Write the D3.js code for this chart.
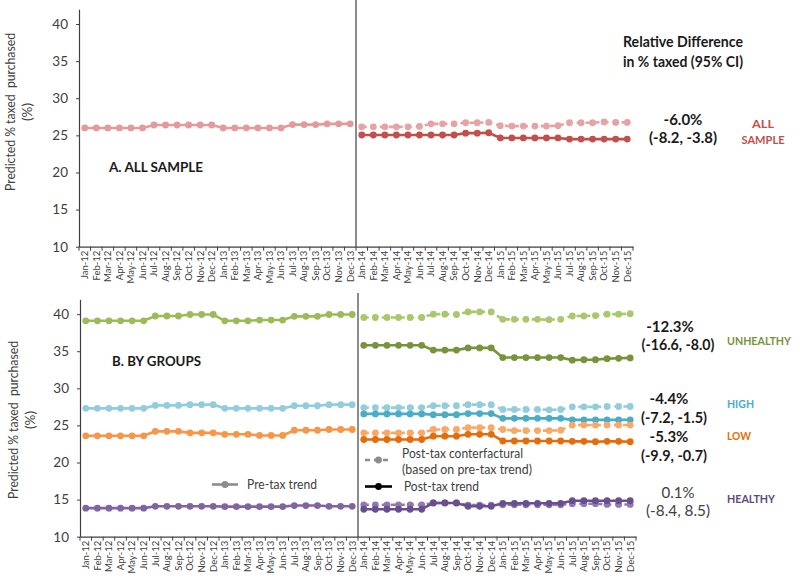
<!DOCTYPE html>
<html><head><meta charset="utf-8">
<script src="https://cdn.jsdelivr.net/npm/d3@7"></script>
<style>
body{margin:0;background:#fff;}
svg{display:block;font-family:Lato,"Open Sans",sans-serif;}
</style></head>
<body><svg id="c" width="800" height="579"></svg>
<script>
const months = ["Jan-12","Feb-12","Mar-12","Apr-12","May-12","Jun-12","Jul-12","Aug-12","Sep-12","Oct-12","Nov-12","Dec-12",
"Jan-13","Feb-13","Mar-13","Apr-13","May-13","Jun-13","Jul-13","Aug-13","Sep-13","Oct-13","Nov-13","Dec-13",
"Jan-14","Feb-14","Mar-14","Apr-14","May-14","Jun-14","Jul-14","Aug-14","Sep-14","Oct-14","Nov-14","Dec-14",
"Jan-15","Feb-15","Mar-15","Apr-15","May-15","Jun-15","Jul-15","Aug-15","Sep-15","Oct-15","Nov-15","Dec-15"];
const preMonths = months.slice(0,24);
const postMonths = months.slice(24);
const yTicks = [10,15,20,25,30,35,40];

// Panel A: all sample
const allPre  = [26.0,26.0,26.0,26.0,26.0,26.0,26.4,26.4,26.4,26.4,26.4,26.4,26.0,26.0,26.0,26.0,26.0,26.0,26.45,26.45,26.45,26.55,26.55,26.55];
const allCf   = [26.15,26.15,26.15,26.15,26.15,26.2,26.55,26.55,26.55,26.7,26.7,26.75,26.3,26.25,26.25,26.25,26.25,26.3,26.7,26.7,26.7,26.8,26.75,26.75];
const allPost = [25.05,25.05,25.05,25.05,25.05,25.05,25.05,25.05,25.05,25.3,25.3,25.35,24.65,24.65,24.65,24.65,24.65,24.65,24.5,24.5,24.5,24.5,24.5,24.5];

// Panel B: by groups
const unhPre  = [39.1,39.1,39.1,39.1,39.1,39.1,39.75,39.75,39.75,39.95,39.95,39.95,39.1,39.1,39.1,39.2,39.2,39.2,39.7,39.7,39.7,39.95,39.95,39.95];
const unhCf   = [39.55,39.55,39.55,39.55,39.55,39.55,40.0,40.0,39.95,40.3,40.3,40.3,39.3,39.3,39.3,39.3,39.25,39.3,39.75,39.75,39.8,40.0,40.0,40.05];
const unhPost = [35.8,35.8,35.8,35.8,35.8,35.8,35.15,35.15,35.15,35.45,35.45,35.45,34.15,34.15,34.15,34.15,34.15,34.15,33.8,33.85,33.85,34.0,34.05,34.1];
const highPre  = [27.3,27.3,27.3,27.3,27.3,27.3,27.7,27.7,27.7,27.8,27.8,27.8,27.3,27.3,27.3,27.3,27.3,27.3,27.65,27.65,27.65,27.8,27.8,27.8];
const highCf   = [27.4,27.4,27.4,27.4,27.4,27.4,27.65,27.65,27.65,27.8,27.8,27.8,27.15,27.15,27.15,27.15,27.1,27.15,27.5,27.5,27.5,27.55,27.55,27.55];
const highPost = [26.55,26.55,26.55,26.55,26.55,26.55,26.45,26.45,26.45,26.6,26.6,26.6,25.95,25.95,25.95,25.95,25.95,25.95,25.75,25.75,25.75,25.75,25.75,25.75];
const lowPre  = [23.6,23.6,23.6,23.6,23.6,23.6,24.2,24.2,24.2,24.0,24.0,24.0,23.8,23.8,23.8,23.65,23.65,23.65,24.35,24.35,24.35,24.45,24.45,24.45];
const lowCf   = [24.0,24.0,24.0,24.0,24.0,24.0,24.45,24.45,24.45,24.7,24.7,24.7,24.45,24.3,24.3,24.3,24.3,24.35,25.05,25.05,25.05,25.05,25.05,25.05];
const lowPost = [23.1,23.1,23.1,23.1,23.1,23.1,23.55,23.55,23.55,23.8,23.8,23.8,22.9,22.9,22.9,22.9,22.9,22.9,22.85,22.85,22.8,22.85,22.85,22.8];
const hlPre  = [13.85,13.85,13.85,13.85,13.85,13.85,14.1,14.1,14.1,14.1,14.1,14.1,14.05,14.05,14.05,14.05,14.05,14.05,14.2,14.2,14.2,14.1,14.1,14.1];
const hlCf   = [14.3,14.3,14.3,14.3,14.3,14.3,14.55,14.55,14.55,14.25,14.25,14.25,14.3,14.3,14.3,14.3,14.3,14.3,14.45,14.45,14.45,14.35,14.35,14.35];
const hlPost = [13.7,13.7,13.7,13.7,13.7,13.7,14.55,14.55,14.55,14.1,14.1,14.1,14.5,14.5,14.5,14.5,14.5,14.5,14.85,14.85,14.85,14.85,14.85,14.85];

const svg = d3.select("#c");
const axisCol = "#404040", textCol = "#404040";

function panel(cfg){
  const x = d3.scaleBand().domain(months).range(cfg.xr).padding(0);
  const y = d3.scaleLinear().domain([10,42]).range(cfg.yr);
  const g = svg.append("g");
  const ya = g.append("g").attr("transform",`translate(${cfg.xr[0]},0)`)
    .call(d3.axisLeft(y).tickValues(yTicks).tickSize(3).tickSizeOuter(0).tickPadding(8));
  ya.select(".domain").attr("stroke",axisCol).attr("stroke-width",1.2);
  ya.selectAll(".tick line").attr("stroke",axisCol);
  ya.selectAll(".tick text").attr("fill",textCol).style("font-size","13.5px").style("font-family","Lato, sans-serif");
  const xa = g.append("g").attr("transform",`translate(0,${cfg.yr[0]})`)
    .call(d3.axisBottom(x).tickSize(0).tickSizeOuter(0));
  xa.select(".domain").attr("stroke",axisCol).attr("stroke-width",1.2);
  xa.selectAll(".tick text").attr("fill",textCol).style("font-size","9.5px").style("font-family","Lato, sans-serif")
    .attr("transform","rotate(-90)").attr("text-anchor","end").attr("x",-4).attr("y",0).attr("dy","0.35em");
  const bounds = months.map(m=>x(m)).concat([x(months[months.length-1])+x.bandwidth()]);
  g.append("g").selectAll("line").data(bounds).join("line")
    .attr("x1",d=>d).attr("x2",d=>d).attr("y1",cfg.yr[0]).attr("y2",cfg.yr[0]+4)
    .attr("stroke",axisCol).attr("stroke-width",1);
  g.append("line").attr("x1",x("Jan-14")).attr("x2",x("Jan-14"))
    .attr("y1",cfg.divTop).attr("y2",cfg.yr[0]).attr("stroke",axisCol).attr("stroke-width",1.2);
  const ly = cfg.labelY;
  g.append("text").attr("transform",`translate(${cfg.labelX},${ly}) rotate(-90)`).attr("text-anchor","middle")
    .attr("fill",textCol).style("font-size","13.5px").attr("textLength",158).attr("lengthAdjust","spacingAndGlyphs")
    .attr("xml:space","preserve").text("Predicted % taxed  purchased");
  g.append("text").attr("transform",`translate(${cfg.labelX+17},${ly}) rotate(-90)`).attr("text-anchor","middle")
    .attr("fill",textCol).style("font-size","13.5px").text("(%)");
  const cx = m => x(m)+x.bandwidth()/2;
  function series(ms, vals, color, dashed){
    const data = ms.map((m,i)=>({m,v:vals[i]}));
    const line = d3.line().x(d=>cx(d.m)).y(d=>y(d.v));
    g.append("path").datum(data).attr("d",line).attr("fill","none").attr("stroke",color)
      .attr("stroke-width",2.6).attr("stroke-dasharray",dashed?"5,4":null);
    g.append("g").selectAll("circle").data(data).join("circle")
      .attr("cx",d=>cx(d.m)).attr("cy",d=>y(d.v)).attr("r",3.4).attr("fill",color);
  }
  cfg.series.forEach(s=>series(s[0],s[1],s[2],s[3]));
  return {x,y,g};
}

panel({xr:[79,633], yr:[246.7,9.2], divTop:0, labelX:15, labelY:112,
  series:[[preMonths,allPre,"#e39a9a",false],[postMonths,allCf,"#e6a3a3",true],[postMonths,allPost,"#c0504d",false]]});
panel({xr:[80,636], yr:[536.7,299.3], divTop:293, labelX:18, labelY:420,
  series:[[preMonths,unhPre,"#9bbb59",false],[postMonths,unhCf,"#a9c76b",true],[postMonths,unhPost,"#77933c",false],
          [preMonths,highPre,"#92cddc",false],[postMonths,highCf,"#92cddc",true],[postMonths,highPost,"#4bacc6",false],
          [preMonths,lowPre,"#f79646",false],[postMonths,lowCf,"#f9a865",true],[postMonths,lowPost,"#e46c0a",false],
          [preMonths,hlPre,"#8064a2",false],[postMonths,hlCf,"#9079b0",true],[postMonths,hlPost,"#6a4f8e",false]]});

function txt(x,y,s,opt){
  const t = svg.append("text").attr("x",x).attr("y",y).attr("dy","0.35em").text(s)
    .attr("fill",opt.fill||"#1a1a1a").attr("text-anchor",opt.anchor||"start")
    .style("font-size",(opt.size||14)+"px").style("font-weight",opt.bold?"bold":"normal");
  if(opt.len) t.attr("textLength",opt.len).attr("lengthAdjust","spacingAndGlyphs");
  return t;
}
txt(623,42,"Relative Difference",{bold:true,size:14.5,len:120});
txt(623,62,"in % taxed (95% CI)",{bold:true,size:14.5,len:120});
txt(683,120,"-6.0%",{bold:true,size:15,anchor:"middle"});
txt(683,138,"(-8.2, -3.8)",{bold:true,size:15,anchor:"middle",len:68});
txt(763,124,"ALL",{bold:true,size:12,anchor:"middle",fill:"#c0504d",len:22});
txt(763,140,"SAMPLE",{bold:true,size:12,anchor:"middle",fill:"#c0504d",len:43});
txt(109,167,"A. ALL SAMPLE",{bold:true,size:14,len:94});
txt(112,361,"B. BY GROUPS",{bold:true,size:14,len:89});

txt(670,327,"-12.3%",{bold:true,size:15,anchor:"middle"});
txt(678,345,"(-16.6, -8.0)",{bold:true,size:15,anchor:"middle",len:73});
txt(727,341,"UNHEALTHY",{bold:true,size:10.5,fill:"#77933c",len:64});
txt(669,399,"-4.4%",{bold:true,size:15,anchor:"middle"});
txt(674,418,"(-7.2, -1.5)",{bold:true,size:15,anchor:"middle",len:66});
txt(727,404,"HIGH",{bold:true,size:12,fill:"#4bacc6",len:27});
txt(669,437,"-5.3%",{bold:true,size:15,anchor:"middle"});
txt(674,456,"(-9.9, -0.7)",{bold:true,size:15,anchor:"middle",len:66});
txt(727,436,"LOW",{bold:true,size:12,fill:"#e46c0a",len:24});
txt(678,493,"0.1%",{size:15,anchor:"middle",fill:"#404040"});
txt(678,511,"(-8.4, 8.5)",{size:15,anchor:"middle",fill:"#404040",len:64});
txt(727,499,"HEALTHY",{bold:true,size:11.5,fill:"#604a7b",len:48});

function legItem(x1,x2,y,color,dashed){
  svg.append("line").attr("x1",x1).attr("x2",x2).attr("y1",y).attr("y2",y).attr("stroke",color)
    .attr("stroke-width",2.6).attr("stroke-dasharray",dashed?"5,4":null);
  svg.append("circle").attr("cx",(x1+x2)/2).attr("cy",y).attr("r",3.4).attr("fill",color);
}
legItem(212,238,484.5,"#8c8c8c",false);
txt(247,484,"Pre-tax trend",{size:13,fill:"#404040",len:70});
legItem(365,392,460,"#8c8c8c",true);
txt(402,453,"Post-tax conterfactural",{size:13,fill:"#404040",len:121});
txt(402,469,"(based on pre-tax trend)",{size:13,fill:"#404040",len:130});
legItem(365,392,486.5,"#000",false);
txt(404,486,"Post-tax trend",{size:13,fill:"#404040",len:75});
</script></body></html>
